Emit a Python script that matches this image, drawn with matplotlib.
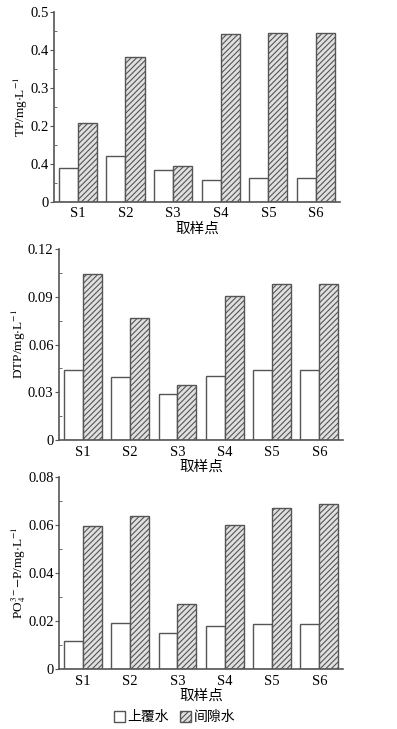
import numpy as np
import matplotlib
matplotlib.use("Agg")
import matplotlib.pyplot as plt
from matplotlib.patches import Patch

plt.rcParams['font.family'] = ['Liberation Serif', 'Noto Sans CJK SC', 'DejaVu Sans']
plt.rcParams['mathtext.fontset'] = 'stix'
plt.rcParams['hatch.linewidth'] = 0.8
plt.rcParams['hatch.color'] = '#707070'

sites = ["S1", "S2", "S3", "S4", "S5", "S6"]

# 上覆水 / 间隙水
tp_over = [0.089, 0.121, 0.085, 0.058, 0.063, 0.063]
tp_pore = [0.208, 0.381, 0.095, 0.440, 0.443, 0.443]

dtp_over = [0.0438, 0.0398, 0.0291, 0.0400, 0.0438, 0.0438]
dtp_pore = [0.1040, 0.0769, 0.0346, 0.0903, 0.0980, 0.0980]

po4_over = [0.0115, 0.0192, 0.0151, 0.0180, 0.0187, 0.0187]
po4_pore = [0.0596, 0.0638, 0.0271, 0.0601, 0.0672, 0.0689]

tp_ticks = [0, 0.1, 0.2, 0.3, 0.4, 0.5]
tp_ticklabels = ["0", "0.4", "0.2", "0.3", "0.4", "0.5"]   # as printed in the original
dtp_ticks = [0, 0.03, 0.06, 0.09, 0.12]
dtp_ticklabels = ["0", "0.03", "0.06", "0.09", "0.12"]
po4_ticks = [0, 0.02, 0.04, 0.06, 0.08]
po4_ticklabels = ["0", "0.02", "0.04", "0.06", "0.08"]

fig = plt.figure(figsize=(3.97, 7.29), dpi=100)

panels = [
    ([0.136, 0.723, 0.720, 0.261], tp_over, tp_pore, tp_ticks, tp_ticklabels, 0.5,
     r'TP/mg$\cdot$L$^{-1}$'),
    ([0.149, 0.3964, 0.715, 0.262], dtp_over, dtp_pore, dtp_ticks, dtp_ticklabels, 0.12,
     r'DTP/mg$\cdot$L$^{-1}$'),
    ([0.149, 0.0823, 0.715, 0.263], po4_over, po4_pore, po4_ticks, po4_ticklabels, 0.08,
     r'PO$_4^{3-}$$-$P/mg$\cdot$L$^{-1}$'),
]

edge = '#555555'
x = np.arange(len(sites))
w = 0.4

for rect, over, pore, ticks, labels, ymax, ylab in panels:
    ax = fig.add_axes(rect)
    ax.bar(x - w / 2, over, w, color='white', edgecolor=edge, linewidth=1.0)
    ax.bar(x + w / 2, pore, w, color='#e0e0e0', edgecolor=edge, linewidth=1.0, hatch='//////')
    ax.set_xlim(-0.5, 5.5)
    ax.set_ylim(0, ymax)
    ax.set_yticks(ticks)
    ax.set_yticklabels(labels, fontsize=10.5)
    ax.set_yticks([(a + b) / 2 for a, b in zip(ticks[:-1], ticks[1:])], minor=True)
    ax.set_xticks(x)
    ax.set_xticklabels(sites, fontsize=10.5)
    ax.tick_params(axis='x', length=0, pad=4)
    ax.tick_params(axis='y', which='major', direction='out', length=3, color=edge, pad=1)
    ax.tick_params(axis='y', which='minor', direction='in', length=2, color=edge)
    for s in ['top', 'right']:
        ax.spines[s].set_visible(False)
    for s in ['left', 'bottom']:
        ax.spines[s].set_color(edge)
        ax.spines[s].set_linewidth(1.2)
    ax.set_ylabel(ylab, fontsize=9.5, labelpad=0)
    ax.set_xlabel("取样点", fontsize=10.5, family=['Noto Sans CJK SC'], labelpad=1)

handles = [Patch(facecolor='white', edgecolor=edge, label='上覆水'),
           Patch(facecolor='#e0e0e0', edgecolor=edge, hatch='//////', label='间隙水')]
fig.legend(handles=handles, loc='center', bbox_to_anchor=(0.44, 0.016), ncol=2,
           frameon=False, prop={'family': 'Noto Sans CJK SC', 'size': 10},
           handlelength=0.8, handleheight=0.8, handletextpad=0.2, columnspacing=0.8)

fig.savefig("out.png", dpi=100)
